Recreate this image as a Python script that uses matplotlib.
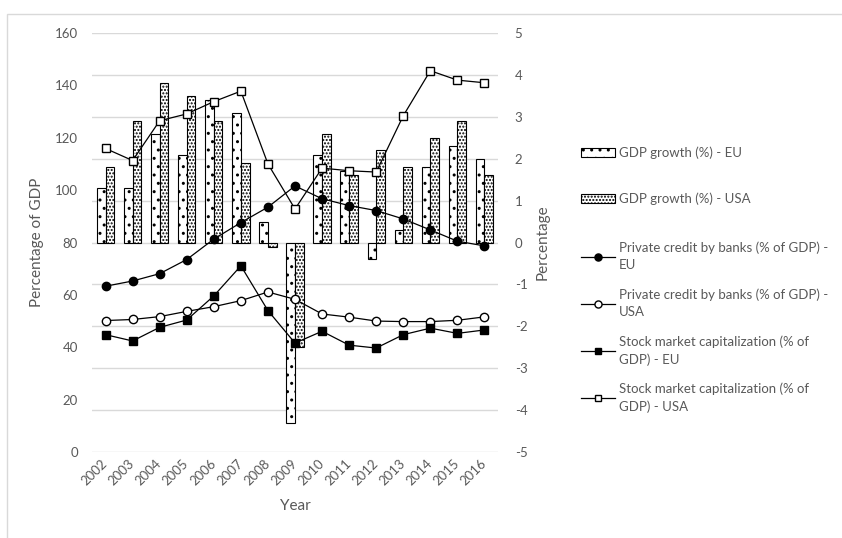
import numpy as np
import matplotlib
matplotlib.use('Agg')
from matplotlib import pyplot as plt
from matplotlib.patches import Rectangle

# Données
years = ['2002', '2003', '2004', '2005', '2006', '2007', '2008', '2009',
         '2010', '2011', '2012', '2013', '2014', '2015', '2016']
gdp_eu = [1.3, 1.3, 2.6, 2.1, 3.4, 3.1, 0.5, -4.3, 2.1, 1.7, -0.4, 0.3, 1.8, 2.3, 2.0]
gdp_usa = [1.8, 2.9, 3.8, 3.5, 2.9, 1.9, -0.1, -2.5, 2.6, 1.6, 2.2, 1.8, 2.5, 2.9, 1.6]
credit_eu = [63.3, 65.3, 68.1, 73.5, 81.3, 87.6, 93.5, 101.6, 96.7, 94.1, 92.2, 89.0, 84.8, 80.5, 78.7]
credit_usa = [50.2, 50.6, 51.7, 53.7, 55.5, 57.8, 61.1, 58.3, 52.7, 51.5, 50.0, 49.8, 49.8, 50.3, 51.6]
stock_eu = [44.8, 42.4, 47.6, 50.4, 59.6, 71.1, 54.0, 41.6, 46.1, 40.8, 39.7, 44.8, 47.3, 45.3, 46.6]
stock_usa = [115.9, 111.3, 126.5, 129.1, 133.8, 137.8, 110.0, 92.8, 108.4, 107.4, 106.9, 128.4, 145.6, 142.0, 141.0]

grey = '#595959'
plt.rcParams['font.family'] = ['Lato', 'DejaVu Sans']
plt.rcParams['font.size'] = 9.5
plt.rcParams['hatch.linewidth'] = 1.0
plt.rcParams['axes.unicode_minus'] = False

fig = plt.figure(figsize=(8.42, 5.38), dpi=100)
fig.add_artist(Rectangle((7/842, -0.1), 1.2, 0.1 + 1 - 14/538,
                         transform=fig.transFigure, fill=False,
                         edgecolor='#d9d9d9', linewidth=1))

ax = fig.add_axes([92/842, 1 - 452/538, 406/842, 419/538])
ax2 = ax.twinx()

x = np.arange(len(years))
w = 0.32

# barres : croissance du PIB (axe de droite)
b1 = ax2.bar(x - w/2, gdp_eu, w, facecolor='white', edgecolor='black',
             hatch='..', linewidth=0.8, label='GDP growth (%) - EU', zorder=2)
b2 = ax2.bar(x + w/2, gdp_usa, w, facecolor='white', edgecolor='black',
             hatch='.....', linewidth=0.8, label='GDP growth (%) - USA', zorder=2)
ax2.set_ylim(-5, 5)
ax2.set_yticks(np.arange(-5, 6, 1))
ax2.grid(axis='y', color='#d9d9d9', linewidth=1)
ax2.set_axisbelow(True)

# courbes (axe de gauche)
ax.set_zorder(ax2.get_zorder() + 1)
ax.patch.set_visible(False)
l1, = ax.plot(x, credit_eu, 'k-', marker='o', ms=6, mfc='black', lw=0.9,
              label='Private credit by banks (% of GDP) -\nEU')
l2, = ax.plot(x, credit_usa, 'k-', marker='o', ms=6, mfc='white', lw=0.9,
              label='Private credit by banks (% of GDP) -\nUSA')
l3, = ax.plot(x, stock_eu, 'k-', marker='s', ms=5.5, mfc='black', lw=0.9,
              label='Stock market capitalization (% of\nGDP) - EU')
l4, = ax.plot(x, stock_usa, 'k-', marker='s', ms=5.5, mfc='white', lw=0.9,
              label='Stock market capitalization (% of\nGDP) - USA')
ax.set_ylim(0, 160)
ax.set_yticks(np.arange(0, 161, 20))
ax.set_xlim(-0.5, len(years) - 0.5)
ax.set_xticks(x)
ax.set_xticklabels(years, rotation=45, ha='right', va='center',
                   rotation_mode='anchor')

for a in (ax, ax2):
    for s in a.spines.values():
        s.set_visible(False)
    a.tick_params(length=0, colors=grey, labelsize=9.5)
ax.tick_params(axis='y', pad=10)
ax.tick_params(axis='x', pad=7)
ax2.tick_params(axis='y', pad=12)

ax.set_ylabel('Percentage of GDP', color=grey, fontsize=11, labelpad=8)
ax2.set_ylabel('Percentage', color=grey, fontsize=11, labelpad=6)
ax.set_xlabel('Year', color=grey, fontsize=11, labelpad=8)

leg1 = fig.legend(handles=[b1, b2], loc='upper left',
                  bbox_to_anchor=(569/842, 1 - 135/538), frameon=False,
                  labelspacing=2.5, handlelength=2.6, handletextpad=0.3,
                  labelcolor=grey, fontsize=9.5)
leg2 = fig.legend(handles=[l1, l2, l3, l4], loc='upper left',
                  bbox_to_anchor=(569/842, 1 - 230/538), frameon=False,
                  labelspacing=1.3, handlelength=2.6, handletextpad=0.3,
                  labelcolor=grey, fontsize=9.5, markerscale=0.85)
for t in leg2.get_texts():
    t.set_linespacing(1.5)

fig.savefig('out.png', dpi=100)
